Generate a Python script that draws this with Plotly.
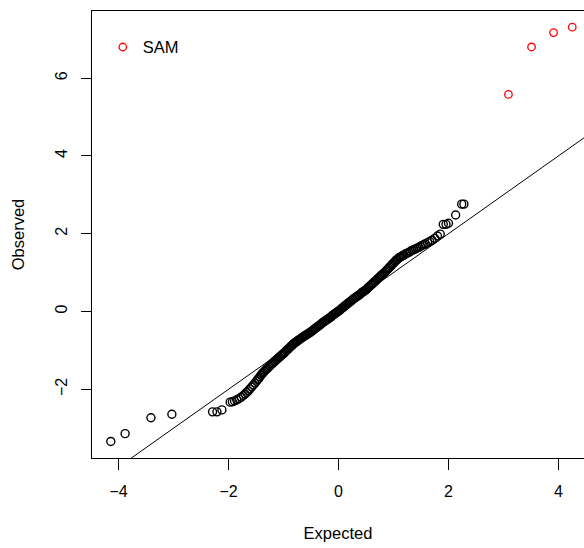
import plotly.graph_objects as go

# ---- data ----
# dense body of the Q-Q plot (Expected, Observed)
expected = [
    -4.14, -3.88, -3.41, -3.03, -2.29, -2.21, -2.12,
    -1.97, -1.93, -1.89, -1.85, -1.81, -1.77, -1.73, -1.70, -1.67, -1.64,
    -1.61, -1.58, -1.55, -1.52, -1.49, -1.47, -1.45, -1.43, -1.41, -1.39,
    -1.37, -1.35, -1.33, -1.31, -1.29, -1.27, -1.25, -1.23, -1.21,
    -1.19, -1.17, -1.15, -1.13, -1.11, -1.09, -1.07, -1.05, -1.03, -1.01,
    -0.99, -0.97, -0.95, -0.93, -0.91, -0.89, -0.87, -0.85, -0.83, -0.81,
    -0.79, -0.77, -0.75, -0.73, -0.71, -0.69, -0.67, -0.65, -0.63, -0.61,
    -0.59, -0.57, -0.55, -0.53, -0.51, -0.49, -0.47, -0.45, -0.43, -0.41,
    -0.39, -0.37, -0.35, -0.33, -0.31, -0.29, -0.27, -0.25, -0.23, -0.21,
    -0.19, -0.17, -0.15, -0.13, -0.11, -0.09, -0.07, -0.05, -0.03, -0.01,
    0.01, 0.03, 0.05, 0.07, 0.09, 0.11, 0.13, 0.15, 0.17, 0.19,
    0.21, 0.23, 0.25, 0.27, 0.29, 0.31, 0.33, 0.35, 0.37, 0.39,
    0.41, 0.43, 0.45, 0.47, 0.49, 0.51, 0.53, 0.55, 0.57, 0.59,
    0.61, 0.63, 0.65, 0.67, 0.69, 0.71, 0.73, 0.75, 0.77, 0.79,
    0.81, 0.83, 0.85, 0.87, 0.89, 0.91, 0.93, 0.95, 0.97, 0.99,
    1.01, 1.03, 1.05, 1.07, 1.09, 1.11, 1.13, 1.15, 1.17, 1.19,
    1.22, 1.25, 1.28, 1.31, 1.34, 1.37, 1.40, 1.43, 1.46, 1.49,
    1.52, 1.55, 1.58, 1.62, 1.66, 1.70, 1.75, 1.80, 1.85,
    1.905, 1.955, 2.00, 2.13, 2.24, 2.28,
]
observed = [
    -3.34, -3.14, -2.73, -2.64, -2.58, -2.58, -2.53,
    -2.33, -2.32, -2.30, -2.27, -2.24, -2.20, -2.16, -2.12, -2.08, -2.04,
    -1.99, -1.94, -1.89, -1.84, -1.79, -1.75, -1.72, -1.68, -1.64, -1.60,
    -1.57, -1.54, -1.51, -1.48, -1.46, -1.43, -1.40, -1.37, -1.35,
    -1.32, -1.29, -1.27, -1.24, -1.22, -1.19, -1.17, -1.14, -1.12, -1.09,
    -1.07, -1.04, -1.01, -0.98, -0.96, -0.93, -0.90, -0.88, -0.85, -0.82,
    -0.80, -0.78, -0.76, -0.74, -0.72, -0.70, -0.68, -0.66, -0.64, -0.62,
    -0.60, -0.59, -0.57, -0.55, -0.53, -0.51, -0.49, -0.47, -0.44, -0.42,
    -0.40, -0.38, -0.36, -0.34, -0.31, -0.29, -0.27, -0.25, -0.23, -0.21,
    -0.19, -0.17, -0.15, -0.13, -0.10, -0.08, -0.06, -0.04, -0.02, 0.00,
    0.02, 0.04, 0.07, 0.09, 0.11, 0.14, 0.16, 0.18, 0.21, 0.23,
    0.25, 0.27, 0.30, 0.32, 0.34, 0.36, 0.38, 0.40, 0.42, 0.44,
    0.47, 0.49, 0.51, 0.53, 0.55, 0.57, 0.60, 0.63, 0.65, 0.68,
    0.70, 0.73, 0.76, 0.78, 0.81, 0.84, 0.86, 0.89, 0.92, 0.94,
    0.97, 0.99, 1.02, 1.05, 1.08, 1.11, 1.14, 1.17, 1.20, 1.23,
    1.26, 1.29, 1.32, 1.34, 1.37, 1.39, 1.40, 1.42, 1.44, 1.45,
    1.48, 1.50, 1.52, 1.55, 1.57, 1.59, 1.61, 1.63, 1.65, 1.67,
    1.70, 1.72, 1.74, 1.77, 1.80, 1.83, 1.88, 1.94, 1.99,
    2.24, 2.24, 2.27, 2.48, 2.76, 2.76,
]

# significant genes called by SAM
sam_expected = [3.09, 3.51, 3.91, 4.25]
sam_observed = [5.58, 6.80, 7.17, 7.31]

# reference line Observed = Expected
ref_line = [-6.0, 6.0]

x_ticks = [-4, -2, 0, 2, 4]
x_tick_labels = ["\u22124", "\u22122", "0", "2", "4"]
y_ticks = [-2, 0, 2, 4, 6]
y_tick_labels = ["\u22122", "0", "2", "4", "6"]

FONT = "Liberation Sans, Arial, Helvetica, sans-serif"

fig = go.Figure()

fig.add_trace(go.Scatter(
    x=ref_line, y=ref_line, mode="lines",
    line=dict(color="black", width=1), showlegend=False, hoverinfo="skip",
))
fig.add_trace(go.Scatter(
    x=expected, y=observed, mode="markers",
    marker=dict(symbol="circle-open", size=8, color="black",
                line=dict(color="black", width=1.4)),
    showlegend=False,
))
fig.add_trace(go.Scatter(
    x=sam_expected, y=sam_observed, mode="markers", name="SAM",
    marker=dict(symbol="circle-open", size=7.5, color="red",
                line=dict(color="red", width=1.3)),
    showlegend=True,
))

fig.update_layout(
    width=584, height=548,
    margin=dict(l=92, r=0, t=11, b=90),
    plot_bgcolor="white", paper_bgcolor="white",
    font=dict(family=FONT, size=16, color="black"),
    legend=dict(x=0.022, y=0.958, xanchor="left", yanchor="top",
                bgcolor="rgba(0,0,0,0)", borderwidth=0,
                font=dict(family=FONT, size=16.5, color="black"),
                itemwidth=30),
    xaxis=dict(
        range=[-4.482, 4.464], showgrid=False, zeroline=False,
        showline=True, linecolor="black", linewidth=1, mirror=True,
        ticks="outside", ticklen=11, tickwidth=1, tickcolor="black",
        tickvals=x_ticks, ticktext=x_tick_labels,
        ticklabelstandoff=8,
        title=dict(text="Expected", standoff=28,
                   font=dict(family=FONT, size=16.5)),
    ),
    yaxis=dict(
        range=[-3.766, 7.725], showgrid=False, zeroline=False,
        showline=True, linecolor="black", linewidth=1,
        ticks="outside", ticklen=10, tickwidth=1, tickcolor="black",
        tickvals=y_ticks, ticktext=y_tick_labels, tickangle=-90,
        ticklabelstandoff=8,
        title=dict(text="Observed", standoff=23,
                   font=dict(family=FONT, size=16.5)),
    ),
)

fig.write_html("out.html")
